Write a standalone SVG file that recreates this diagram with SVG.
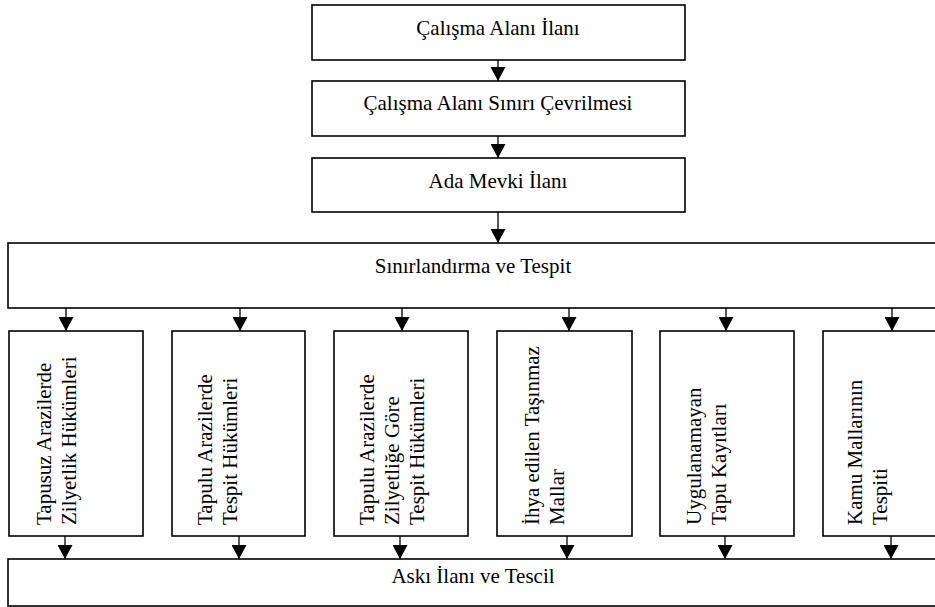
<svg xmlns="http://www.w3.org/2000/svg" width="935" height="607" viewBox="0 0 935 607">
<style>
.box{fill:#fff;stroke:#000;stroke-width:1.6}
.t{font-family:"Liberation Serif","Times New Roman",serif;font-size:21px;fill:#000}
.c{text-anchor:middle}
.edge{stroke:#000;stroke-width:1.3;fill:none;marker-end:url(#ah)}
</style>
<defs>
<marker id="ah" viewBox="0 0 14 15" markerWidth="14" markerHeight="15" refX="14" refY="7.5" orient="auto" markerUnits="userSpaceOnUse">
<path d="M0,0 L14,7.5 L0,15 z" fill="#000"/>
</marker>
</defs>
<rect width="935" height="607" fill="#fff"/>
<g id="n1"><rect class="box" x="312" y="5" width="373" height="55"/><text class="t c" x="498" y="35">Çalışma Alanı İlanı</text></g>
<g id="n2"><rect class="box" x="312" y="81" width="373" height="55"/><text class="t c" x="498" y="110">Çalışma Alanı Sınırı Çevrilmesi</text></g>
<g id="n3"><rect class="box" x="312" y="158" width="373" height="54"/><text class="t c" x="498" y="188">Ada Mevki İlanı</text></g>
<g id="n4"><rect class="box" x="8" y="243" width="930" height="65"/><text class="t c" x="473" y="273">Sınırlandırma ve Tespit</text></g>
<g id="c1"><rect class="box" x="9" y="331" width="134" height="205"/>
<text class="t" transform="translate(51,525) rotate(-90)">Tapusuz Arazilerde</text>
<text class="t" transform="translate(76,525) rotate(-90)">Zilyetlik Hükümleri</text></g>
<g id="c2"><rect class="box" x="172" y="331" width="133" height="205"/>
<text class="t" transform="translate(212,525) rotate(-90)">Tapulu Arazilerde</text>
<text class="t" transform="translate(237,525) rotate(-90)">Tespit Hükümleri</text></g>
<g id="c3"><rect class="box" x="334" y="331" width="134" height="205"/>
<text class="t" transform="translate(374,525) rotate(-90)">Tapulu Arazilerde</text>
<text class="t" transform="translate(399,525) rotate(-90)">Zilyetliğe Göre</text>
<text class="t" transform="translate(424,525) rotate(-90)">Tespit Hükümleri</text></g>
<g id="c4"><rect class="box" x="497" y="331" width="135" height="205"/>
<text class="t" transform="translate(539,525) rotate(-90)">İhya edilen Taşınmaz</text>
<text class="t" transform="translate(564,525) rotate(-90)">Mallar</text></g>
<g id="c5"><rect class="box" x="660" y="331" width="134" height="205"/>
<text class="t" transform="translate(701,525) rotate(-90)">Uygulanamayan</text>
<text class="t" transform="translate(726,525) rotate(-90)">Tapu Kayıtları</text></g>
<g id="c6"><rect class="box" x="823" y="331" width="134" height="205"/>
<text class="t" transform="translate(862,525) rotate(-90)">Kamu Mallarının</text>
<text class="t" transform="translate(887,525) rotate(-90)">Tespiti</text></g>
<g id="n5"><rect class="box" x="8" y="559" width="930" height="47"/><text class="t c" x="473" y="583">Askı İlanı ve Tescil</text></g>
<g id="edges">
<line class="edge" x1="498" y1="60" x2="498" y2="81"/>
<line class="edge" x1="498" y1="136" x2="498" y2="158"/>
<line class="edge" x1="498" y1="212" x2="498" y2="243"/>
<line class="edge" x1="66" y1="308" x2="66" y2="331"/>
<line class="edge" x1="240" y1="308" x2="240" y2="331"/>
<line class="edge" x1="402" y1="308" x2="402" y2="331"/>
<line class="edge" x1="569" y1="308" x2="569" y2="331"/>
<line class="edge" x1="726" y1="308" x2="726" y2="331"/>
<line class="edge" x1="892" y1="308" x2="892" y2="331"/>
<line class="edge" x1="65" y1="536" x2="65" y2="559"/>
<line class="edge" x1="239" y1="536" x2="239" y2="559"/>
<line class="edge" x1="400" y1="536" x2="400" y2="559"/>
<line class="edge" x1="567" y1="536" x2="567" y2="559"/>
<line class="edge" x1="725" y1="536" x2="725" y2="559"/>
<line class="edge" x1="891" y1="536" x2="891" y2="559"/>
</g>
</svg>
